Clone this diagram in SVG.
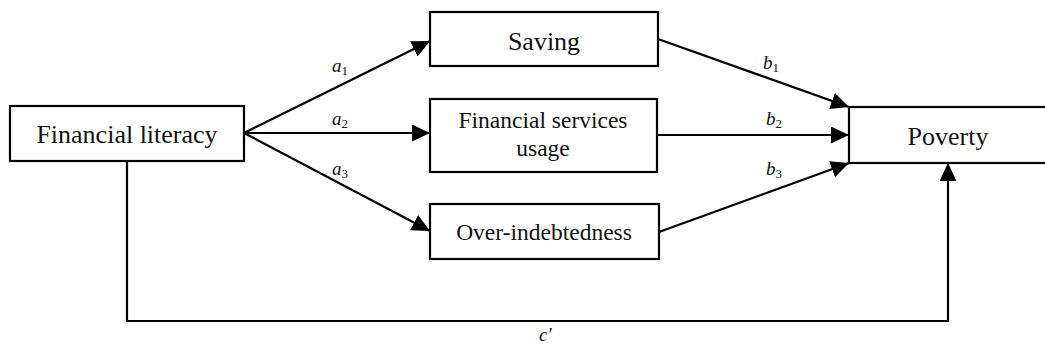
<svg xmlns="http://www.w3.org/2000/svg" width="1045" height="349" viewBox="0 0 1045 349">
<style>
.box{fill:#fff;stroke:#000;stroke-width:2.2}
.lbl{font-family:"Liberation Serif","Times New Roman",serif;fill:#111;text-anchor:middle}
.big{font-size:26px}
.mid{font-size:23.5px}
.con{fill:none;stroke:#000;stroke-width:2.2}
.math{font-family:"Liberation Serif","Times New Roman",serif;font-style:italic;font-size:19px;fill:#111}
.sub{font-size:13px;font-style:normal}
</style>
<defs>
<marker id="ah" markerUnits="userSpaceOnUse" markerWidth="20" markerHeight="20" refX="18" refY="8.5" orient="auto">
<path d="M0,0 L18,8.5 L0,17 z" fill="#000"/>
</marker>
</defs>
<rect width="1045" height="349" fill="#fff"/>
<g id="connectors">
<path class="con" d="M244,133 L430,41" marker-end="url(#ah)"/>
<path class="con" d="M244,133 L430,133" marker-end="url(#ah)"/>
<path class="con" d="M244,133 L430,231" marker-end="url(#ah)"/>
<path class="con" d="M658,39 L849,107" marker-end="url(#ah)"/>
<path class="con" d="M657,135 L849,135" marker-end="url(#ah)"/>
<path class="con" d="M659,232 L849,163" marker-end="url(#ah)"/>
<path class="con" d="M127,161 V321 H948 V163" marker-end="url(#ah)"/>
<text class="math" x="332" y="72">a<tspan class="sub" dy="3">1</tspan></text>
<text class="math" x="332" y="125">a<tspan class="sub" dy="3">2</tspan></text>
<text class="math" x="332" y="175">a<tspan class="sub" dy="3">3</tspan></text>
<text class="math" x="763" y="69">b<tspan class="sub" dy="3">1</tspan></text>
<text class="math" x="766" y="125">b<tspan class="sub" dy="3">2</tspan></text>
<text class="math" x="766" y="175">b<tspan class="sub" dy="3">3</tspan></text>
<text class="math" x="539" y="341">c′</text>
</g>
<g id="node-financial-literacy">
<rect class="box" x="10" y="106" width="234" height="55"/>
<text class="lbl big" x="127" y="143">Financial  literacy</text>
</g>
<g id="node-saving">
<rect class="box" x="430" y="12" width="228" height="54"/>
<text class="lbl big" x="544" y="50">Saving</text>
</g>
<g id="node-financial-services">
<rect class="box" x="430" y="99" width="227" height="73"/>
<text class="lbl mid" x="543" y="128">Financial services</text>
<text class="lbl mid" x="543" y="156">usage</text>
</g>
<g id="node-over-indebtedness">
<rect class="box" x="430" y="204" width="229" height="55"/>
<text class="lbl mid" x="544" y="240">Over-indebtedness</text>
</g>
<g id="node-poverty">
<rect class="box" x="849" y="107" width="200" height="56"/>
<text class="lbl big" x="948" y="145">Poverty</text>
</g>
</svg>
